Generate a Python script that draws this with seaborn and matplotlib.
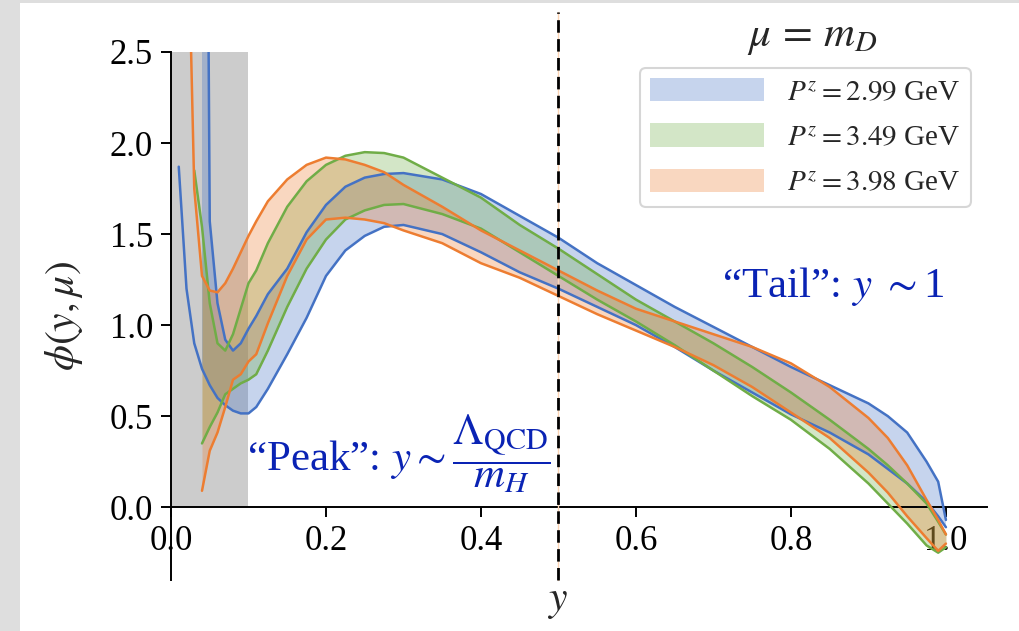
import matplotlib
matplotlib.use("Agg")
import matplotlib.pyplot as plt
import numpy as np
import pandas as pd
import seaborn as sns
from matplotlib.patches import Rectangle

nan = np.nan

# momentum fraction grid
y_grid = [0.01, 0.02, 0.03, 0.04, 0.05, 0.06, 0.07, 0.08, 0.09, 0.1,
          0.11, 0.125, 0.15, 0.175, 0.2, 0.225, 0.25, 0.275, 0.3, 0.35,
          0.4, 0.45, 0.5, 0.55, 0.6, 0.65, 0.7, 0.75, 0.8, 0.85,
          0.9, 0.925, 0.95, 0.975, 0.99, 1.0]

# band edges for each P^z
blue_hi = [nan, nan, nan, 8.0, 1.57, 1.12, 0.92, 0.86, 0.90, 0.98,
           1.05, 1.17, 1.31, 1.51, 1.66, 1.76, 1.81, 1.83, 1.835, 1.80,
           1.72, 1.60, 1.48, 1.34, 1.22, 1.10, 0.99, 0.88, 0.77, 0.67,
           0.57, 0.50, 0.41, 0.25, 0.14, -0.07]
blue_lo = [1.87, 1.20, 0.90, 0.76, 0.67, 0.60, 0.56, 0.53, 0.515, 0.515,
           0.55, 0.65, 0.84, 1.04, 1.27, 1.41, 1.49, 1.54, 1.55, 1.50,
           1.40, 1.29, 1.20, 1.10, 1.00, 0.88, 0.75, 0.63, 0.51, 0.41,
           0.29, 0.21, 0.13, 0.03, -0.05, -0.11]
green_hi = [nan, nan, 1.85, 1.54, 1.12, 0.90, 0.86, 0.95, 1.09, 1.23,
            1.30, 1.45, 1.65, 1.79, 1.88, 1.93, 1.95, 1.945, 1.92, 1.81,
            1.70, 1.55, 1.42, 1.28, 1.14, 1.02, 0.90, 0.77, 0.63, 0.48,
            0.32, 0.23, 0.13, 0.02, -0.08, -0.15]
green_lo = [nan, nan, nan, 0.35, 0.44, 0.52, 0.62, 0.65, 0.68, 0.70,
            0.73, 0.86, 1.10, 1.31, 1.47, 1.58, 1.63, 1.66, 1.665, 1.61,
            1.53, 1.40, 1.27, 1.14, 1.02, 0.89, 0.75, 0.61, 0.48, 0.32,
            0.13, 0.02, -0.09, -0.21, -0.25, -0.22]
orange_hi = [nan, 3.6, 1.75, 1.27, 1.19, 1.18, 1.23, 1.31, 1.40, 1.49,
             1.57, 1.68, 1.80, 1.88, 1.92, 1.91, 1.88, 1.84, 1.77, 1.65,
             1.52, 1.41, 1.30, 1.19, 1.09, 1.02, 0.95, 0.88, 0.79, 0.66,
             0.49, 0.38, 0.23, 0.04, -0.07, -0.15]
orange_lo = [nan, nan, nan, 0.09, 0.31, 0.41, 0.55, 0.70, 0.73, 0.80,
             0.84, 1.01, 1.27, 1.47, 1.58, 1.59, 1.58, 1.56, 1.52, 1.45,
             1.34, 1.26, 1.16, 1.06, 0.97, 0.88, 0.78, 0.66, 0.52, 0.38,
             0.19, 0.08, -0.05, -0.17, -0.24, -0.20]

momenta = ["2.99", "3.49", "3.98"]
colors = ["#4472c4", "#70ad47", "#ed7d31"]

# grey region (small-y window) and reference line
shade_x = [0.0, 0.1]
shade_top = 2.5
y_ref = 0.5

sns.set_theme(style="ticks")
plt.rcParams["font.family"] = ["Liberation Serif", "DejaVu Serif"]
plt.rcParams["mathtext.fontset"] = "stix"

fig = plt.figure(figsize=(10.2, 6.31), dpi=100)
fig.patch.set_facecolor("#dedede")
fig.patches.append(Rectangle((20 / 1020, 0), 1 - 20 / 1020, 628 / 631,
                             transform=fig.transFigure, facecolor="white",
                             edgecolor="none", zorder=-10))
ax = fig.add_axes([171 / 1020, 51 / 631, 816 / 1020, 528 / 631])
ax.set_zorder(1)
ax.set_facecolor("none")

ax.fill_between(shade_x, 0, shade_top, color="grey", alpha=0.4, lw=0, zorder=1)

bands = [(blue_lo, blue_hi), (green_lo, green_hi), (orange_lo, orange_hi)]
xg = np.array(y_grid)
for (lo, hi), c, p in zip(bands, colors, momenta):
    lo = np.array(lo)
    hi = np.array(hi)
    ok = ~np.isnan(lo) & ~np.isnan(hi)
    ax.fill_between(xg[ok], lo[ok], hi[ok], color=c, alpha=0.3, lw=0,
                    label=rf"$P^z = {p}$ GeV", zorder=2)
    for edge in (lo, hi):
        df = pd.DataFrame({"y": xg, "phi": edge}).dropna()
        sns.lineplot(data=df, x="y", y="phi", color=c, lw=1.8, ax=ax,
                     zorder=3, legend=False)

ax.axvline(y_ref, ymin=0, ymax=1.076, color="#fcd5b5", lw=1.0,
           clip_on=False, zorder=3)
ax.axvline(y_ref, ymin=0, ymax=1.076, color="black", lw=2.0,
           linestyle=(0, (4.5, 2.3)), clip_on=False, zorder=4)

ax.set_xlim(0, 1.053)
ax.set_ylim(-0.4, 2.5)
ax.spines["top"].set_visible(False)
ax.spines["right"].set_visible(False)
ax.spines["bottom"].set_position(("data", 0))
for s in ("left", "bottom"):
    ax.spines[s].set_linewidth(1.4)
    ax.spines[s].set_color("black")

ax.set_xticks([0.0, 0.2, 0.4, 0.6, 0.8, 1.0])
ax.set_yticks([0.0, 0.5, 1.0, 1.5, 2.0, 2.5])
ax.xaxis.set_major_formatter(matplotlib.ticker.FormatStrFormatter("%.1f"))
ax.yaxis.set_major_formatter(matplotlib.ticker.FormatStrFormatter("%.1f"))
ax.tick_params(axis="both", direction="out", length=7, width=1.4,
               labelsize=25, color="black", labelcolor="black", pad=6)

ax.set_xlabel("$y$", fontsize=30)
ax.xaxis.set_label_coords(0.473, -0.005)
ax.set_ylabel(r"$\phi(y,\mu)$", fontsize=30)
ax.yaxis.set_label_coords(-0.105, 0.5)

ax.text(0.786, 1.027, r"$\mu\,=\,m_D$", transform=ax.transAxes,
        ha="center", va="center", fontsize=31)

leg = ax.legend(loc="upper right", bbox_to_anchor=(0.980, 0.970),
                borderaxespad=0, fontsize=21, handlelength=3.9,
                handleheight=0.86, handletextpad=0.8, labelspacing=0.6,
                borderpad=0.35, frameon=True, fancybox=True)
leg.get_frame().set_edgecolor("#cccccc")
leg.get_frame().set_linewidth(1.5)

blue_txt = "#0a23b4"
ax.text(0.098, 0.20, r"“Peak”: $y\sim\dfrac{\Lambda_{\rm QCD}}{m_H}$",
        color=blue_txt, fontsize=31, ha="left", va="baseline", zorder=5)
ax.text(0.711, 1.154, r"“Tail”: $y\ \sim$1", color=blue_txt, fontsize=31,
        ha="left", va="baseline", zorder=5)

fig.savefig("out.png", dpi=100)
